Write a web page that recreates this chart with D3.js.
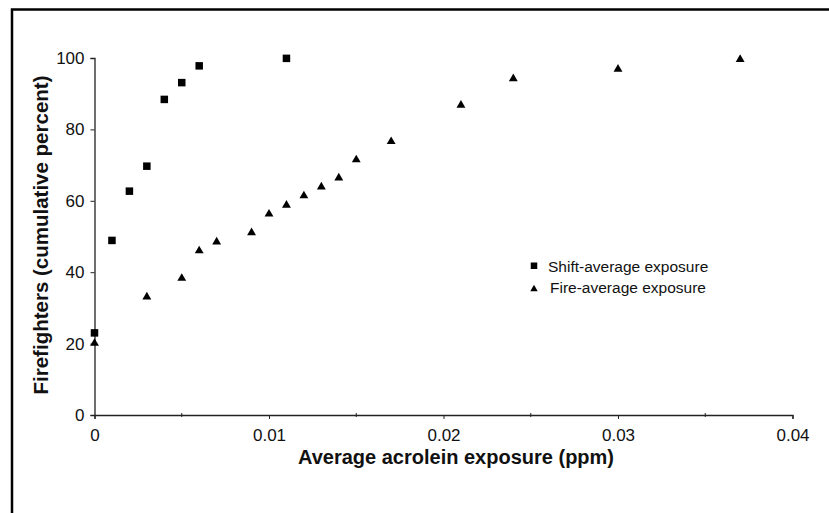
<!DOCTYPE html>
<html>
<head>
<meta charset="utf-8">
<script src="https://cdn.jsdelivr.net/npm/d3@7"></script>
<style>
  body { margin: 0; background: #fff; }
  svg text { font-family: "Liberation Sans", Arial, sans-serif; fill: #111; }
</style>
</head>
<body>
<div id="chart"></div>
<script>
// shift-average exposure (squares)
const shiftX = [0, 0.001, 0.002, 0.003, 0.004, 0.005, 0.006, 0.011];
const shiftY = [23, 48.9, 62.7, 69.7, 88.4, 93.1, 97.8, 99.9];

// fire-average exposure (triangles)
const fireX = [0, 0.003, 0.005, 0.006, 0.007, 0.009, 0.010, 0.011, 0.012, 0.013, 0.014, 0.015, 0.017, 0.021, 0.024, 0.030, 0.037];
const fireY = [20.1, 33.1, 38.3, 46.0, 48.5, 51.1, 56.3, 58.8, 61.4, 63.9, 66.4, 71.5, 76.6, 86.8, 94.2, 96.9, 99.6];

const xTicks = [0, 0.01, 0.02, 0.03, 0.04];
const xMinorTicks = [0.005, 0.015, 0.025, 0.035];
const yTicks = [0, 20, 40, 60, 80, 100];
const seriesNames = ["Shift-average exposure", "Fire-average exposure"];

const width = 829, height = 513;
const svg = d3.select("#chart").append("svg")
  .attr("width", width)
  .attr("height", height);

// frame (top + left only)
svg.append("path")
  .attr("d", `M12,${height} V9.5 H${width}`)
  .attr("fill", "none")
  .attr("stroke", "#000")
  .attr("stroke-width", 2.5);

const x = d3.scaleLinear().domain([0, 0.04]).range([94.5, 792.5]);
const y = d3.scaleLinear().domain([0, 100]).range([415, 58]);

// x axis
const xAxis = svg.append("g")
  .attr("transform", `translate(0,${y(0)})`)
  .call(d3.axisBottom(x).tickValues(xTicks).tickSize(4).tickPadding(10)
    .tickFormat(d => d === 0 ? "0" : d3.format(".2f")(d)));
xAxis.append("g").selectAll("line")
  .data(xMinorTicks)
  .join("line")
  .attr("x1", d => x(d)).attr("x2", d => x(d))
  .attr("y1", -2).attr("y2", 2)
  .attr("stroke", "#222");

// y axis
const yAxis = svg.append("g")
  .attr("transform", `translate(${x(0)},0)`)
  .call(d3.axisLeft(y).tickValues(yTicks).tickSize(4).tickPadding(6));

[xAxis, yAxis].forEach(a => {
  a.select(".domain").attr("stroke", "#222").attr("stroke-width", 1.3);
  a.selectAll(".tick line").attr("stroke", "#222");
  a.selectAll(".tick text").attr("font-size", 17).attr("fill", "#111");
});

// axis titles
svg.append("text")
  .attr("x", 456)
  .attr("y", 464)
  .attr("text-anchor", "middle")
  .attr("font-size", 20)
  .attr("font-weight", "bold")
  .text("Average acrolein exposure (ppm)");

svg.append("text")
  .attr("transform", "translate(48,235) rotate(-90)")
  .attr("text-anchor", "middle")
  .attr("font-size", 20.5)
  .attr("font-weight", "bold")
  .text("Firefighters (cumulative percent)");

const tri = d3.symbol().type(d3.symbolTriangle).size(34);

// squares
svg.append("g").selectAll("rect")
  .data(shiftX.map((v, i) => [v, shiftY[i]]))
  .join("rect")
  .attr("x", d => x(d[0]) - 3.75)
  .attr("y", d => y(d[1]) - 3.75)
  .attr("width", 7.5)
  .attr("height", 7.5)
  .attr("fill", "#000");

// triangles
svg.append("g").selectAll("path")
  .data(fireX.map((v, i) => [v, fireY[i]]))
  .join("path")
  .attr("d", tri)
  .attr("transform", d => `translate(${x(d[0])},${y(d[1])})`)
  .attr("fill", "#000");

// legend
const legend = svg.append("g").attr("transform", "translate(534,0)");
legend.append("rect")
  .attr("x", -3.25).attr("y", 262.5)
  .attr("width", 6.5).attr("height", 6.5)
  .attr("fill", "#000");
legend.append("path")
  .attr("d", d3.symbol().type(d3.symbolTriangle).size(24)())
  .attr("transform", "translate(0,289)")
  .attr("fill", "#000");
legend.selectAll("text")
  .data(seriesNames)
  .join("text")
  .attr("x", (d, i) => i === 0 ? 14 : 16)
  .attr("y", (d, i) => i === 0 ? 271.5 : 292.5)
  .attr("font-size", 15.5)
  .text(d => d);
</script>
</body>
</html>
